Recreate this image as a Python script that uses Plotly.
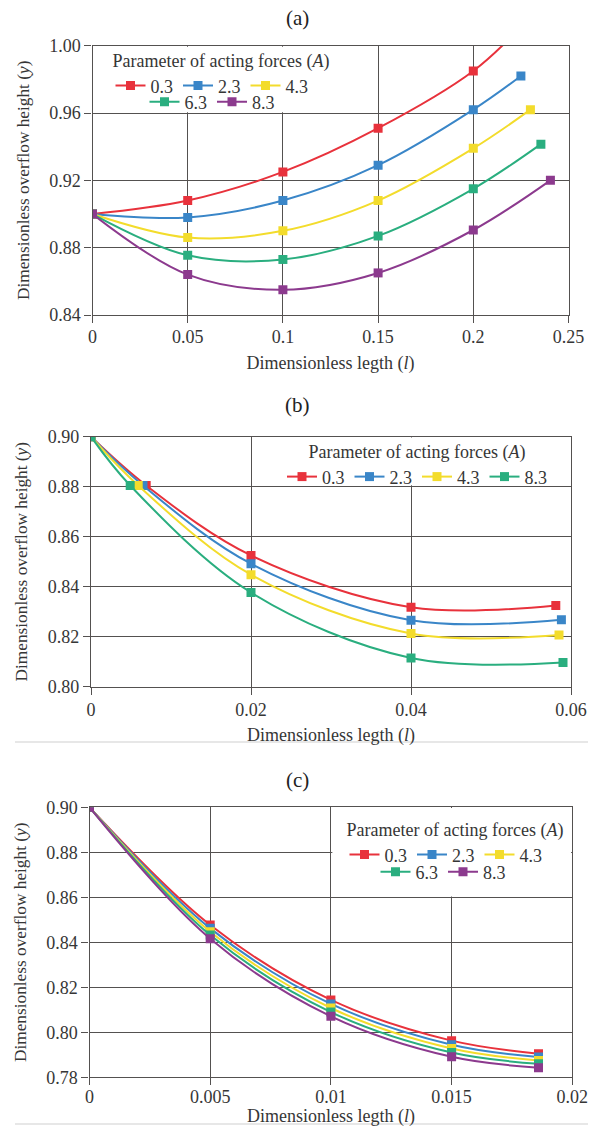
import plotly.graph_objects as go

# ---------------- data ----------------
LEGEND_TITLE = "Parameter of acting forces (<i>A</i>)"
X_TITLE = "Dimensionless legth (<i>l</i>)"
Y_TITLE = "Dimensionless overflow height (<i>y</i>)"

# panel (a)
A_NAMES = ["0.3", "2.3", "4.3", "6.3", "8.3"]
A03_X = [0, 0.05, 0.10, 0.15, 0.20, 0.224]
A03_Y = [0.900, 0.908, 0.925, 0.951, 0.985, 1.010]
A23_X = [0, 0.05, 0.10, 0.15, 0.20, 0.225]
A23_Y = [0.900, 0.898, 0.908, 0.929, 0.962, 0.982]
A43_X = [0, 0.05, 0.10, 0.15, 0.20, 0.230]
A43_Y = [0.900, 0.886, 0.890, 0.908, 0.939, 0.962]
A63_X = [0, 0.05, 0.10, 0.15, 0.20, 0.2355]
A63_Y = [0.900, 0.8755, 0.873, 0.887, 0.915, 0.9415]
A83_X = [0, 0.05, 0.10, 0.15, 0.20, 0.2405]
A83_Y = [0.900, 0.864, 0.855, 0.865, 0.8905, 0.920]

# panel (b)
B_NAMES = ["0.3", "2.3", "4.3", "8.3"]
B03_X = [0, 0.0069, 0.02, 0.04, 0.0581]
B03_Y = [0.900, 0.8805, 0.8525, 0.8318, 0.8325]
B23_X = [0, 0.0065, 0.02, 0.04, 0.0588]
B23_Y = [0.900, 0.8805, 0.8492, 0.8266, 0.8268]
B43_X = [0, 0.0059, 0.02, 0.04, 0.0585]
B43_Y = [0.900, 0.8805, 0.8448, 0.8213, 0.8207]
B83_X = [0, 0.0049, 0.02, 0.04, 0.0590]
B83_Y = [0.900, 0.8805, 0.8377, 0.8115, 0.8097]

# panel (c)
C_NAMES = ["0.3", "2.3", "4.3", "6.3", "8.3"]
C_X = [0, 0.005, 0.010, 0.015, 0.0186]
C03_Y = [0.900, 0.8477, 0.8144, 0.7963, 0.7905]
C23_Y = [0.900, 0.8462, 0.8126, 0.7945, 0.7890]
C43_Y = [0.900, 0.8447, 0.8108, 0.7928, 0.7875]
C63_Y = [0.900, 0.8432, 0.8090, 0.7910, 0.7860]
C83_Y = [0.900, 0.8416, 0.8071, 0.7891, 0.7843]

# ---------------- style ----------------
W, H = 595, 1127
FONT = "Liberation Serif, Times New Roman, serif"
TXT = "#363636"
GRID = "#545150"
RED, BLUE, YEL, GRN, PUR = "#e8323c", "#3a86c8", "#f3dc2c", "#2aae7f", "#8c3a8e"


def px_x(p):
    return p / W


def px_y(p):
    return 1 - p / H


fig = go.Figure()


def add(xs, ys, name, color, xa, ya, legend):
    fig.add_trace(go.Scatter(
        x=xs, y=ys, name=name, mode="lines+markers",
        line=dict(color=color, width=2, shape="spline", smoothing=1.0),
        marker=dict(symbol="square", size=9, color=color),
        xaxis=xa, yaxis=ya, legend=legend, hoverinfo="skip"))


# panel (a)
add(A03_X, A03_Y, A_NAMES[0], RED, "x", "y", "legend")
add(A23_X, A23_Y, A_NAMES[1], BLUE, "x", "y", "legend")
add(A43_X, A43_Y, A_NAMES[2], YEL, "x", "y", "legend")
add(A63_X, A63_Y, A_NAMES[3], GRN, "x", "y", "legend4")
add(A83_X, A83_Y, A_NAMES[4], PUR, "x", "y", "legend4")
# panel (b)
add(B03_X, B03_Y, B_NAMES[0], RED, "x2", "y2", "legend2")
add(B23_X, B23_Y, B_NAMES[1], BLUE, "x2", "y2", "legend2")
add(B43_X, B43_Y, B_NAMES[2], YEL, "x2", "y2", "legend2")
add(B83_X, B83_Y, B_NAMES[3], GRN, "x2", "y2", "legend2")
# panel (c)
add(C_X, C03_Y, C_NAMES[0], RED, "x3", "y3", "legend3")
add(C_X, C23_Y, C_NAMES[1], BLUE, "x3", "y3", "legend3")
add(C_X, C43_Y, C_NAMES[2], YEL, "x3", "y3", "legend3")
add(C_X, C63_Y, C_NAMES[3], GRN, "x3", "y3", "legend5")
add(C_X, C83_Y, C_NAMES[4], PUR, "x3", "y3", "legend5")

tickfont = dict(family=FONT, size=18, color=TXT)
titlefont = dict(family=FONT, size=18, color=TXT)
ytitlefont = dict(family=FONT, size=17.3, color=TXT)


def xax(rng, dtick, dom, anchor, lab_off, title_off):
    return dict(range=rng, dtick=dtick, tick0=0, domain=dom, anchor=anchor,
                showgrid=True, gridcolor=GRID, gridwidth=1.3,
                showline=True, linecolor=GRID, linewidth=1.3, mirror=True,
                ticks="outside", ticklen=7, tickwidth=1.3, tickcolor=GRID,
                ticklabelstandoff=lab_off,
                zeroline=False, tickfont=tickfont, fixedrange=True,
                title=dict(text=X_TITLE, font=titlefont, standoff=title_off))


def yax(rng, dtick, dom, anchor):
    return dict(range=rng, dtick=dtick, tick0=0, domain=dom, anchor=anchor,
                tickformat=".2f",
                showgrid=True, gridcolor=GRID, gridwidth=1.3,
                showline=True, linecolor=GRID, linewidth=1.3, mirror=True,
                ticks="outside", ticklen=7, tickwidth=1.3, tickcolor=GRID,
                zeroline=False, tickfont=tickfont, fixedrange=True,
                title=dict(text=Y_TITLE, font=ytitlefont, standoff=15))


def leg(x, y, yanchor, title=None):
    d = dict(orientation="h", x=x, y=y, xanchor="center", yanchor=yanchor,
             bgcolor="rgba(0,0,0,0)", borderwidth=0, itemwidth=30,
             font=dict(family=FONT, size=18, color=TXT), tracegroupgap=0,
             itemclick=False, itemdoubleclick=False)
    if title:
        d["title"] = dict(text=title, side="top center",
                          font=dict(family=FONT, size=18, color=TXT))
    return d


shapes = [
    # legend boxes (white, covering the grid like the spreadsheet legend)
    dict(type="rect", xref="x", yref="y", x0=0.0006, x1=0.1494, y0=0.9604, y1=0.9994,
         fillcolor="white", line=dict(width=0), layer="above"),
    dict(type="rect", xref="x2", yref="y2", x0=0.0235, x1=0.05985, y0=0.8806, y1=0.8997,
         fillcolor="white", line=dict(width=0), layer="above"),
    dict(type="rect", xref="x3", yref="y3", x0=0.01006, x1=0.01995, y0=0.8604, y1=0.8997,
         fillcolor="white", line=dict(width=0), layer="above"),
    # page separator lines
    dict(type="line", xref="paper", yref="paper", x0=px_x(15), x1=px_x(588),
         y0=px_y(742), y1=px_y(742), line=dict(color="#cfcfcf", width=1)),
    dict(type="line", xref="paper", yref="paper", x0=px_x(15), x1=px_x(588),
         y0=px_y(1124), y1=px_y(1124), line=dict(color="#cfcfcf", width=1)),
]

annotations = [
    dict(text=t, x=0.5, y=px_y(yy), xref="paper", yref="paper", showarrow=False,
         xanchor="center", yanchor="middle", font=dict(family=FONT, size=21, color="#222"))
    for t, yy in [("(a)", 18), ("(b)", 405), ("(c)", 780)]
]

fig.update_layout(
    width=W, height=H, template="none",
    margin=dict(l=0, r=0, t=0, b=0),
    paper_bgcolor="white", plot_bgcolor="white",
    showlegend=True,
    xaxis=xax([0, 0.25], 0.05, [px_x(92.5), px_x(568.5)], "y", -2, 10),
    yaxis=yax([0.84, 1.00], 0.04, [px_y(315), px_y(45.7)], "x"),
    xaxis2=xax([0, 0.06], 0.02, [px_x(91), px_x(571)], "y2", 0, 8),
    yaxis2=yax([0.80, 0.90], 0.02, [px_y(686.7), px_y(436.7)], "x2"),
    xaxis3=xax([0, 0.02], 0.005, [px_x(89.5), px_x(572.3)], "y3", -4, 6),
    yaxis3=yax([0.78, 0.90], 0.02, [px_y(1077.3), px_y(807.3)], "x3"),
    legend=leg(px_x(221), px_y(44), "top", LEGEND_TITLE),
    legend4=leg(px_x(212), px_y(102), "middle"),
    legend2=leg(px_x(417), px_y(435), "top", LEGEND_TITLE),
    legend3=leg(px_x(455), px_y(813), "top", LEGEND_TITLE),
    legend5=leg(px_x(443), px_y(872), "middle"),
    shapes=shapes,
    annotations=annotations,
)

fig.write_html("out.html", config={"displayModeBar": False},
               post_script="document.body.style.margin='0';")
